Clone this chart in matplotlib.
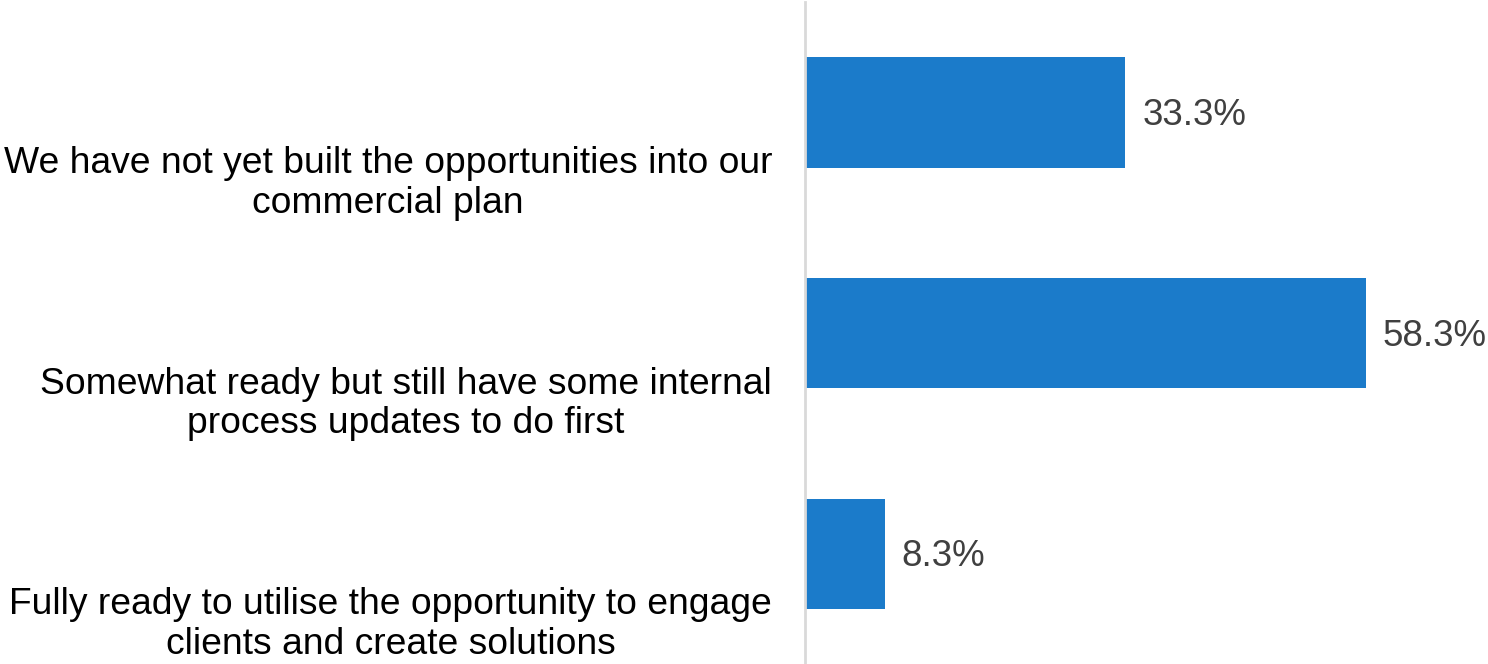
import numpy as np
import matplotlib
matplotlib.use('Agg')
import matplotlib.pyplot as plt
from matplotlib.transforms import blended_transform_factory, offset_copy

categories = [
    'We have not yet built the opportunities into our\ncommercial plan',
    'Somewhat ready but still have some internal\nprocess updates to do first',
    'Fully ready to utilise the opportunity to engage\nclients and create solutions',
]
values = [33.3, 58.3, 8.3]
value_labels = ['33.3%', '58.3%', '8.3%']

plt.rcParams['font.family'] = ['Liberation Sans', 'DejaVu Sans']

fig = plt.figure(figsize=(14.88, 6.64), dpi=100)
ax = fig.add_axes([805 / 1488, 0.0, 1 - 805 / 1488, 662 / 664])

pos = np.arange(len(values))
ax.barh(pos, values, height=0.5, color='#1b7bca', zorder=2)
ax.set_xlim(0, 71)
ax.set_ylim(2.5, -0.5)

for y, v, lab in zip(pos, values, value_labels):
    ax.annotate(lab, (v, y), xytext=(17, -3), textcoords='offset pixels',
                ha='left', va='center', fontsize=26.5, color='#404040')

# category text sits a bit below each bar centre
trans = offset_copy(blended_transform_factory(ax.transAxes, ax.transData),
                    fig=fig, x=-33 * 0.72, y=0, units='points')
for y, cat in zip(pos, categories):
    ax.text(0, y + 0.322, cat, transform=trans, ha='right', va='center',
            multialignment='center', fontsize=26.8, color='black',
            linespacing=1.17)

for s in ['top', 'right', 'bottom']:
    ax.spines[s].set_visible(False)
ax.spines['left'].set_color('#d9d9d9')
ax.spines['left'].set_linewidth(2)
ax.set_xticks([])
ax.set_yticks([])

fig.savefig('out.png', dpi=100)
